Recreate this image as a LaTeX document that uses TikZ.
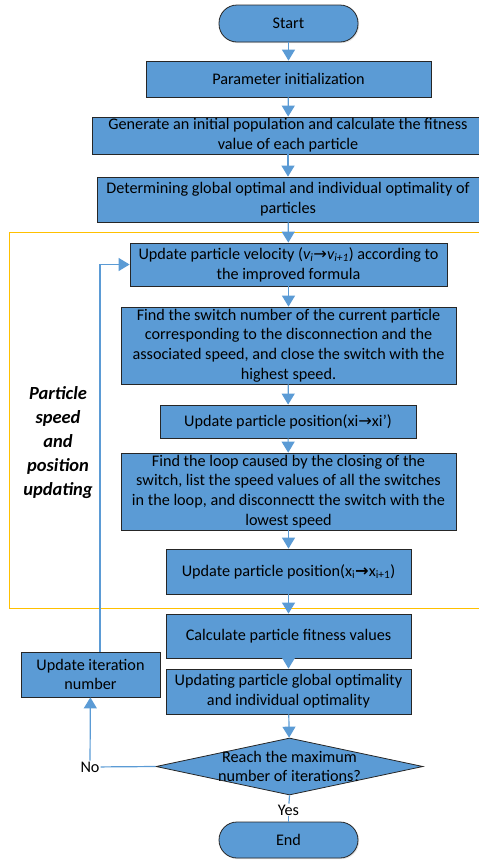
\documentclass[tikz,border=0pt]{standalone}
\usepackage{fontspec}
\setmainfont{Carlito}
\newfontfamily\symfont{DejaVu Sans}
\usetikzlibrary{shapes.geometric,arrows.meta,shadows}
\definecolor{boxblue}{HTML}{5B9BD5}
\definecolor{framegold}{HTML}{FFC000}
\begin{document}
\begin{tikzpicture}[x=1pt,y=-1pt,
	box/.style={draw=black!85,fill=boxblue,line width=0.8pt,align=center,inner sep=0pt,
		drop shadow={shadow xshift=1.2pt,shadow yshift=-1.2pt,fill=black!20},
		font=\fontsize{16.2}{19.8}\selectfont},
	terminal/.style={box,rounded corners=18pt},
	decision/.style={draw=black!85,fill=boxblue,line width=0.8pt,diamond,inner sep=0pt},
	flow/.style={draw=boxblue,line width=1.2pt,-{Triangle[width=13pt,length=11pt]}},
	link/.style={draw=boxblue,line width=1.2pt}]
	\useasboundingbox (0,0) rectangle (479,860);
	% updating stage frame
	\draw[framegold,line width=1pt] (9.5,232.5) rectangle (490,608.5);
	\node[font=\fontsize{18.5}{24}\selectfont\bfseries\itshape,align=center] (stage) at (58,443) {Particle\\speed\\and\\position\\updating};
	% main chain
	\node[terminal,minimum width=139pt,minimum height=37pt] (start) at (288.5,23.5) {Start};
	\node[box,minimum width=285pt,minimum height=36pt] (init) at (288.5,79) {Parameter initialization};
	\node[box,minimum width=392pt,minimum height=37pt] (pop) at (288,135.5) {Generate an initial population and calculate the fitness\\value of each particle};
	\node[box,minimum width=382pt,minimum height=45pt] (best) at (288,199.5) {Determining global optimal and individual optimality of\\particles};
	\node[box,minimum width=317pt,minimum height=43pt] (vel) at (288.5,264.5) {Update particle velocity ({\itshape v\textsubscript{i}{\symfont→}v\textsubscript{i+1}}) according to\\the improved formula};
	\node[box,minimum width=335pt,minimum height=77pt] (close) at (288.5,345.5) {Find the switch number of the current particle\\corresponding to the disconnection and the\\associated speed, and close the switch with the\\highest speed.};
	\node[box,minimum width=256pt,minimum height=33pt] (pos1) at (288,421.5) {Update particle position(xi{\symfont→}xi')};
	\node[box,minimum width=335pt,minimum height=77pt] (open) at (288.5,491.5) {Find the loop caused by the closing of the\\switch, list the speed values of all the switches\\in the loop, and disconnectt the switch with the\\lowest speed};
	\node[box,minimum width=245pt,minimum height=45pt] (pos2) at (288.5,571.5) {Update particle position(x\textsubscript{i}{\symfont\bfseries→}x\textsubscript{i+1})};
	\node[box,minimum width=245pt,minimum height=44pt] (fit) at (288.5,636) {Calculate particle fitness values};
	\node[box,minimum width=245pt,minimum height=45pt] (glob) at (288.5,691.5) {Updating particle global optimality\\and individual optimality};
	\node[decision,minimum width=267pt,minimum height=57pt] (check) at (289.5,766.5) {};
	\node[align=center,font=\fontsize{16.2}{19.8}\selectfont] (checktext) at (check) {Reach the maximum\\number of iterations?};
	\node[terminal,minimum width=139pt,minimum height=36pt] (stop) at (288.5,840) {End};
	\node[box,minimum width=139pt,minimum height=45pt] (iter) at (90.5,674.5) {Update iteration\\number};
	% connectors
	\draw[flow] (start) -- (init);
	\draw[flow] (init) -- (pop);
	\draw[flow] (pop) -- (best);
	\draw[flow] (best) -- (vel);
	\draw[flow] (vel) -- (close);
	\draw[flow] (close) -- (pos1);
	\draw[flow] (pos1) -- (open);
	\draw[flow] (open) -- (pos2);
	\draw[flow] (pos2) -- (fit);
	\draw[flow] (fit) -- (glob);
	\draw[flow] (glob) -- (check);
	\node[font=\fontsize{16.2}{18}\selectfont,inner sep=1pt] (yes) at (288.5,810) {Yes};
	\draw[link] (check.south) -- (yes);
	\draw[link] (yes) -- (stop);
	\node[font=\fontsize{16.2}{18}\selectfont,inner sep=1pt] (no) at (90,767) {No};
	\draw[link] (check.west) -- (no);
	\draw[flow] (no) -- (iter);
	\draw[flow] (iter.north -| 100,0) |- (vel.west);
\end{tikzpicture}
\end{document}
